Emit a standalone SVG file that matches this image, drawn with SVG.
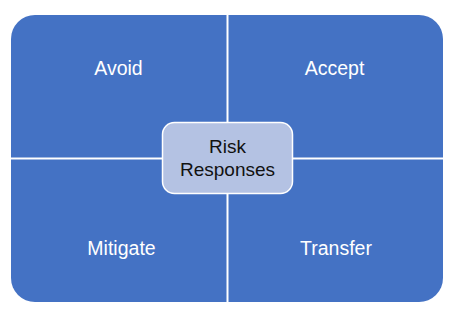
<svg xmlns="http://www.w3.org/2000/svg" width="460" height="325" viewBox="0 0 460 325">
<style>
.q{fill:#4472c4;}
.lbl{font-family:"Liberation Sans",Arial,sans-serif;font-size:19.5px;fill:#ffffff;text-anchor:middle;}
.ctr{font-family:"Liberation Sans",Arial,sans-serif;font-size:19px;fill:#111111;text-anchor:middle;}
</style>
<rect width="460" height="325" fill="#ffffff"/>
<g id="avoid">
<path class="q" d="M11,39 A24,24 0 0 1 35,15 H226.5 V157.5 H11 Z"/>
<text class="lbl" x="118.5" y="75">Avoid</text>
</g>
<g id="accept">
<path class="q" d="M228.5,15 H419 A24,24 0 0 1 443,39 V157.5 H228.5 Z"/>
<text class="lbl" x="334.5" y="75">Accept</text>
</g>
<g id="mitigate">
<path class="q" d="M11,159.5 H226.5 V302 H35 A24,24 0 0 1 11,278 Z"/>
<text class="lbl" x="121.5" y="255">Mitigate</text>
</g>
<g id="transfer">
<path class="q" d="M228.5,159.5 H443 V278 A24,24 0 0 1 419,302 H228.5 Z"/>
<text class="lbl" x="336" y="255">Transfer</text>
</g>
<g id="connectors"></g>
<g id="risk-responses">
<rect x="162.5" y="122.5" width="130" height="71" rx="12" ry="12" fill="#b4c2e3" stroke="#ffffff" stroke-width="1.5"/>
<text class="ctr" x="227.5" y="152.5">Risk</text>
<text class="ctr" x="227.5" y="176">Responses</text>
</g>
</svg>
